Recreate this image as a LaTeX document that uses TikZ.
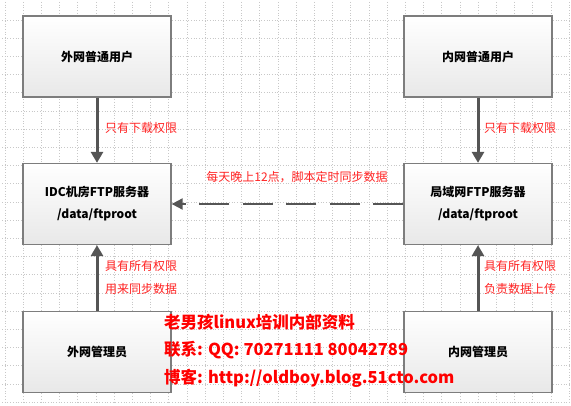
\documentclass[tikz,border=0pt]{standalone}
\usepackage{fontspec}
\setmainfont{Noto Sans CJK SC}
\usetikzlibrary{arrows.meta,shadows}
\definecolor{gridc}{RGB}{200,200,200}
\definecolor{boxline}{RGB}{125,125,125}
\definecolor{arrowc}{RGB}{85,85,85}
\definecolor{lblred}{RGB}{255,35,35}
\tikzset{
  gbox/.style={draw=boxline, line width=1.3pt, top color=white, bottom color=black!9,
    minimum width=148pt, minimum height=81pt, inner sep=0pt, align=center,
    font=\fontsize{12}{22}\selectfont\bfseries,
    drop shadow={shadow xshift=1pt, shadow yshift=-1pt, opacity=0.35, fill=black}},
  solidarrow/.style={draw=arrowc, line width=3pt, -{Triangle[length=11pt,width=12pt]}},
  dasharrow/.style={draw=arrowc, line width=2pt, dash pattern=on 30pt off 13.5pt,
    -{Triangle[length=11pt,width=11pt]}},
  lbl/.style={text=lblred, font=\fontsize{12}{14}\selectfont, inner sep=0pt, anchor=west},
  biglbl/.style={text=red, font=\fontsize{16.5}{18}\selectfont\bfseries, inner sep=0pt, anchor=west},
}
\begin{document}
\begin{tikzpicture}[x=1pt,y=-1pt]
\useasboundingbox (0,0) rectangle (571,406);
\fill[white] (0,0) rectangle (571,406);
% grid
\foreach \k in {0,...,31}{
  \draw[gridc, line width=0.7pt, dotted] ({5+18.2*\k},2) -- ({5+18.2*\k},404);
}
\foreach \k in {0,...,21}{
  \draw[gridc, line width=0.7pt, dotted] (2,{20+18.2*\k}) -- (571,{20+18.2*\k});
}
% boxes
\node[gbox] (lu) at (97,56.5) {外网普通用户};
\node[gbox] (ls) at (97,204) {IDC机房FTP服务器\\/data/ftproot};
\node[gbox] (la) at (97,352) {外网管理员};
\node[gbox] (ru) at (478,56.5) {内网普通用户};
\node[gbox] (rs) at (478,204) {局域网FTP服务器\\/data/ftproot};
\node[gbox] (ra) at (478,352) {内网管理员};
% arrows
\draw[solidarrow] (lu.south) -- (ls.north);
\draw[solidarrow] (ru.south) -- (rs.north);
\draw[solidarrow] (la.north) -- (ls.south);
\draw[solidarrow] (ra.north) -- (rs.south);
\draw[dasharrow] (rs.west) -- (ls.east);
% labels
\node[lbl] (t1) at (105,128) {只有下载权限};
\node[lbl] (t2) at (484,128) {只有下载权限};
\node[lbl, anchor=center] (t3) at (297,177) {每天晚上12点，脚本定时同步数据};
\node[lbl] (t4) at (105,266) {具有所有权限};
\node[lbl] (t5) at (105,288.5) {用来同步数据};
\node[lbl] (t6) at (484,266) {具有所有权限};
\node[lbl] (t7) at (484,288.5) {负责数据上传};
% watermark text
\node[biglbl] (w1) at (164,322.5) {老男孩linux培训内部资料};
\node[biglbl] (w2) at (164,350.5) {联系: QQ: 70271111 80042789};
\node[biglbl] (w3) at (164,378.5) {博客: http://oldboy.blog.51cto.com};
\end{tikzpicture}
\end{document}
